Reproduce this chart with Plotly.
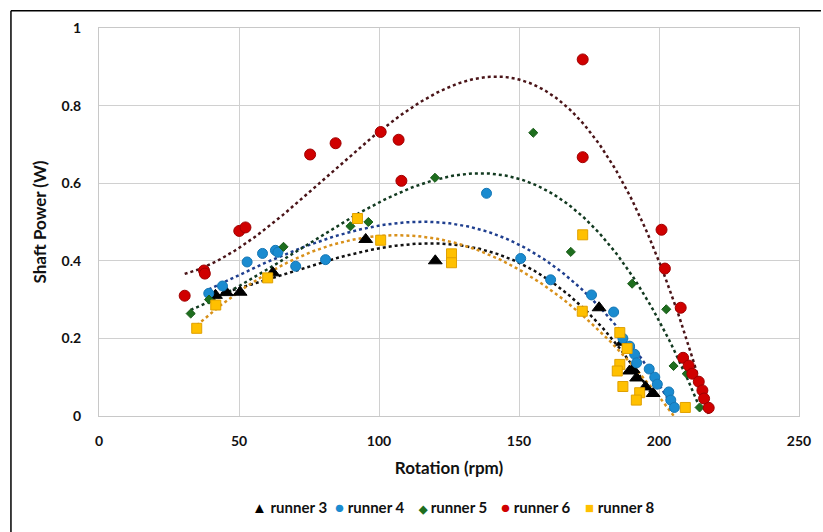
import numpy as np
import plotly.graph_objects as go

# Shaft power vs rotation for each runner
r3_x = [41.6, 45.5, 50.4, 62.1, 95.25, 120.1, 178.6, 187.0, 189.5, 190.7, 192.0, 195.2, 197.9]
r3_y = [0.311, 0.318, 0.319, 0.369, 0.455, 0.400, 0.279, 0.190, 0.116, 0.120, 0.098, 0.075, 0.058]

r4_x = [39.2, 44.1, 52.9, 58.4, 63.0, 63.9, 70.25, 80.9, 138.4, 150.6, 161.3, 175.9, 183.8,
        187.1, 189.5, 191.3, 192.0, 196.5, 198.5, 199.4, 203.5, 204.2, 205.5]
r4_y = [0.316, 0.335, 0.397, 0.419, 0.427, 0.422, 0.386, 0.403, 0.574, 0.406, 0.351, 0.312, 0.268,
        0.200, 0.180, 0.159, 0.137, 0.121, 0.100, 0.082, 0.062, 0.041, 0.022]

r5_x = [32.75, 39.3, 65.9, 89.8, 96.2, 120.0, 155.1, 168.5, 190.4, 202.6, 205.2, 209.9, 214.5]
r5_y = [0.264, 0.300, 0.436, 0.489, 0.500, 0.614, 0.730, 0.423, 0.341, 0.275, 0.129, 0.109, 0.022]

r6_x = [30.6, 37.5, 37.8, 50.1, 52.3, 75.4, 84.5, 100.6, 107.0, 108.0, 172.75, 172.75, 200.9,
        202.1, 207.75, 208.6, 210.6, 211.9, 214.2, 215.5, 216.1, 217.75]
r6_y = [0.310, 0.375, 0.367, 0.477, 0.486, 0.674, 0.703, 0.732, 0.712, 0.606, 0.919, 0.667, 0.480,
        0.380, 0.279, 0.150, 0.130, 0.109, 0.0885, 0.066, 0.045, 0.021]

r8_x = [34.9, 41.7, 60.25, 92.3, 100.6, 125.9, 125.9, 172.75, 172.6, 186.0, 188.6, 186.0, 185.1,
        187.1, 193.1, 191.9, 209.4]
r8_y = [0.226, 0.286, 0.356, 0.509, 0.453, 0.418, 0.395, 0.467, 0.270, 0.215, 0.174, 0.133, 0.116,
        0.076, 0.060, 0.041, 0.022]

x_ticks = [0, 50, 100, 150, 200, 250]
y_ticks = [0, 0.2, 0.4, 0.6, 0.8, 1]

series = [
    # name, x, y, symbol, size, fill, outline, trend colour, key glyph, glyph size
    ("runner 3", r3_x, r3_y, "triangle-up", 12, "#000000", "#000000", "#111111", "▲", 15),
    ("runner 4", r4_x, r4_y, "circle", 10, "#1a8bd0", "#1577b5", "#1f3f8f", "●", 15),
    ("runner 5", r5_x, r5_y, "diamond", 7, "#1e6e1e", "#1a5c1a", "#123a20", "◆", 11),
    ("runner 6", r6_x, r6_y, "circle", 11, "#d00000", "#a00000", "#4a1418", "●", 15),
    ("runner 8", r8_x, r8_y, "square", 10, "#ffc000", "#e0a000", "#d8901a", "■", 15),
]

fig = go.Figure()

# dotted polynomial trend lines
for name, xs, ys, sym, size, fill, edge, tcol, glyph, gsize in series:
    coef = np.polyfit(xs, ys, 3)
    xx = np.linspace(min(xs), max(xs), 200)
    yy = np.polyval(coef, xx)
    fig.add_trace(go.Scatter(x=xx, y=yy, mode="lines", showlegend=False, hoverinfo="skip",
                             line=dict(color=tcol, width=2.5, dash="dot")))

# measured points
for name, xs, ys, sym, size, fill, edge, tcol, glyph, gsize in series:
    fig.add_trace(go.Scatter(x=xs, y=ys, mode="markers", name=name, showlegend=False,
                             marker=dict(symbol=sym, size=size, color=fill,
                                         line=dict(color=edge, width=1))))

font_family = "Lato, 'Open Sans', sans-serif"

# plot area in pixels (used to place the key row below the axes)
L, R, T, B = 99, 22, 28, 116
plot_w = 823 - L - R
plot_h = 532 - T - B

# key row: one entry per runner, compact like a spreadsheet legend
key_start_px = 250
key_step_px = 83.5
key_center_px = 507
for i, (name, xs, ys, sym, size, fill, edge, tcol, glyph, gsize) in enumerate(series):
    px = key_start_px + i * key_step_px
    fig.add_annotation(
        xref="paper", yref="paper",
        x=(px - L) / plot_w, y=(532 - B - key_center_px) / plot_h,
        xanchor="left", yanchor="middle", showarrow=False,
        text=f'<span style="color:{fill};font-size:{gsize}px">{glyph}</span> {name}',
        font=dict(size=15, family=font_family, color="#111111", weight="bold"),
    )

fig.update_layout(
    width=823, height=532,
    margin=dict(l=L, r=R, t=T, b=B),
    paper_bgcolor="white", plot_bgcolor="white",
    font=dict(family=font_family, color="#222222"),
    showlegend=False,
    xaxis=dict(range=[0, 250], tickvals=x_ticks, ticktext=[str(v) for v in x_ticks],
               showgrid=True, gridcolor="#d0d0d0", gridwidth=1,
               showline=True, linecolor="#c8c8c8", linewidth=1, mirror=True,
               zeroline=False, ticks="", ticklabelstandoff=12,
               tickfont=dict(size=14, family=font_family, color="#111111", weight="bold"),
               title=dict(text="Rotation (rpm)", standoff=14,
                          font=dict(size=17, family=font_family, color="#111111", weight="bold"))),
    yaxis=dict(range=[0, 1], tickvals=y_ticks, ticktext=["0", "0.2", "0.4", "0.6", "0.8", "1"],
               showgrid=True, gridcolor="#d0d0d0", gridwidth=1,
               showline=True, linecolor="#c8c8c8", linewidth=1, mirror=True,
               zeroline=False, ticks="", ticklabelstandoff=14,
               tickfont=dict(size=14, family=font_family, color="#111111", weight="bold"),
               title=dict(text="Shaft Power (W)", standoff=10,
                          font=dict(size=17, family=font_family, color="#111111", weight="bold"))),
)

# outer chart frame (top and left edges)
frame_px = 10.7
fig.add_shape(type="line", xref="paper", yref="paper",
              x0=(frame_px - L) / plot_w, x1=(823 - L) / plot_w,
              y0=(532 - B - frame_px) / plot_h, y1=(532 - B - frame_px) / plot_h,
              line=dict(color="#000000", width=1.5))
fig.add_shape(type="line", xref="paper", yref="paper",
              x0=(frame_px - L) / plot_w, x1=(frame_px - L) / plot_w,
              y0=(532 - B - frame_px) / plot_h, y1=(-B) / plot_h,
              line=dict(color="#000000", width=1.5))

fig.write_html("out.html")
